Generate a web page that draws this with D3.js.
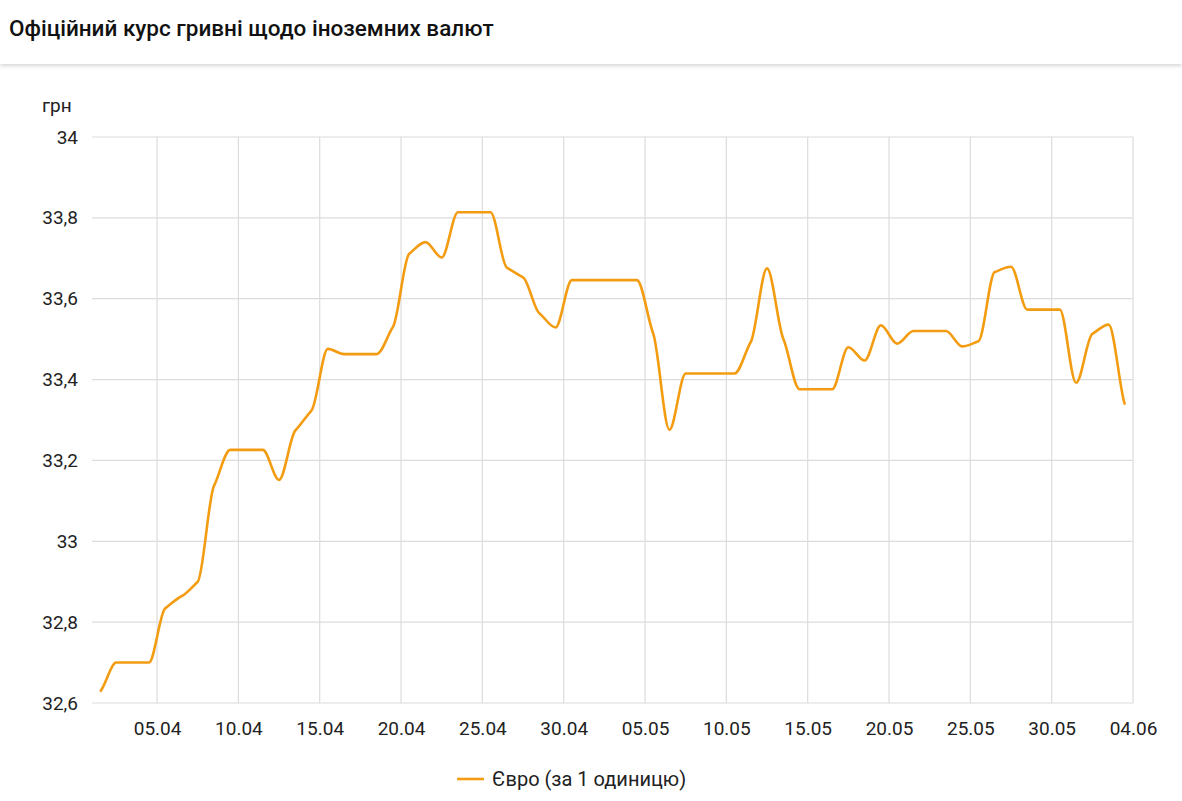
<!DOCTYPE html>
<html><head><meta charset="utf-8">
<script src="https://cdn.jsdelivr.net/npm/d3@7"></script>
<style>
html,body{margin:0;padding:0;background:#fff;width:1182px;height:801px;overflow:hidden;font-family:Roboto,"Noto Sans",sans-serif;}
#hdr{position:absolute;left:0;top:0;width:1182px;height:64px;background:#fff;box-shadow:0 2px 4px rgba(0,0,0,0.16);}
svg{position:absolute;left:0;top:0;}
</style></head><body>
<div id="hdr"></div>
<svg id="c" width="1182" height="801"></svg>
<script>
const titleText = "Офіційний курс гривні щодо іноземних валют";
const startDate = "01.04.2021";
const endDate = "04.06.2021";
const dates = ["01.04","02.04","03.04","04.04","05.04","06.04","07.04","08.04","09.04","10.04",
"11.04","12.04","13.04","14.04","15.04","16.04","17.04","18.04","19.04","20.04",
"21.04","22.04","23.04","24.04","25.04","26.04","27.04","28.04","29.04","30.04",
"01.05","02.05","03.05","04.05","05.05","06.05","07.05","08.05","09.05","10.05",
"11.05","12.05","13.05","14.05","15.05","16.05","17.05","18.05","19.05","20.05",
"21.05","22.05","23.05","24.05","25.05","26.05","27.05","28.05","29.05","30.05",
"31.05","01.06","02.06","03.06"];
const euro = [32.628,32.70,32.70,32.70,32.834,32.864,32.90,33.137,33.226,33.226,
33.226,33.152,33.274,33.324,33.476,33.463,33.463,33.463,33.530,33.711,
33.740,33.702,33.814,33.814,33.814,33.677,33.653,33.564,33.529,33.646,
33.646,33.646,33.646,33.646,33.514,33.276,33.415,33.415,33.415,33.415,
33.493,33.675,33.501,33.376,33.376,33.376,33.480,33.447,33.534,33.489,
33.520,33.520,33.520,33.482,33.495,33.666,33.679,33.573,33.573,33.573,
33.392,33.513,33.536,33.338];
const xTickLabels = ["05.04","10.04","15.04","20.04","25.04","30.04","05.05","10.05","15.05","20.05","25.05","30.05","04.06"];
const yTicks = [32.6,32.8,33,33.2,33.4,33.6,33.8,34];
const seriesName = "Євро (за 1 одиницю)";
const unitLabel = "грн";

const parse = s => { const [d,m] = s.split(".").map(Number); return new Date(2021, m-1, d); };
const parseFull = s => { const [d,m,y] = s.split(".").map(Number); return new Date(y, m-1, d); };
const data = dates.map((d,i)=>({t: new Date(parse(d).getTime()+12*3600e3), v: euro[i]}));

const svg = d3.select("#c");
const L=92, R=1133, T=137, B=703;
const x = d3.scaleTime().domain([parseFull(startDate), parseFull(endDate)]).range([L,R]);
const y = d3.scaleLinear().domain([32.6,34]).range([B,T]);
const fmt = v => String(+v.toFixed(1)).replace(".", ",");
const grid = "#dcdcdc";
const txt = "#222";

svg.append("text").attr("x",9).attr("y",36).attr("font-size",22.5).attr("font-weight",500)
  .attr("font-family","Roboto").attr("fill","#111").text(titleText);

// horizontal grid
svg.append("g").selectAll("line").data(yTicks).join("line")
  .attr("x1",L).attr("x2",R).attr("y1",d=>y(d)).attr("y2",d=>y(d))
  .attr("stroke",grid).attr("stroke-width",1.2);
// vertical grid
const xt = xTickLabels.map(parse);
svg.append("g").selectAll("line").data(xt).join("line")
  .attr("x1",d=>x(d)).attr("x2",d=>x(d)).attr("y1",T).attr("y2",B)
  .attr("stroke",grid).attr("stroke-width",1.2);

// y axis labels
const yAxis = d3.axisLeft(y).tickValues(yTicks).tickFormat(fmt).tickSize(0).tickPadding(0);
const gy = svg.append("g").attr("transform",`translate(${L-14},0)`).call(yAxis);
gy.select(".domain").remove();
gy.selectAll("text").attr("font-size",19).attr("font-family","Roboto").attr("fill",txt);

// x axis labels
const xAxis = d3.axisBottom(x).tickValues(xt).tickFormat((d,i)=>xTickLabels[i]).tickSize(0).tickPadding(0);
const gx = svg.append("g").attr("transform",`translate(0,${B+18})`).call(xAxis);
gx.select(".domain").remove();
gx.selectAll("text").attr("font-size",19).attr("font-family","Roboto").attr("fill",txt);

// unit label
svg.append("text").attr("x",42).attr("y",112).attr("font-size",19).attr("font-family","Roboto").attr("fill",txt).text(unitLabel);

// line: monotone cubic with softened tangents (sharper corners, no overshoot)
function softMonotonePath(pts, k){
  const n = pts.length, p = d3.path();
  const s = [];
  for (let i=0;i<n-1;i++) s.push((pts[i+1][1]-pts[i][1])/(pts[i+1][0]-pts[i][0]));
  const m = pts.map((_,i)=>{
    if (i===0) return s[0]*k;
    if (i===n-1) return s[n-2]*k;
    const a=s[i-1], b=s[i];
    if (a*b<=0) return 0;
    return k*2*a*b/(a+b);
  });
  p.moveTo(pts[0][0],pts[0][1]);
  for (let i=0;i<n-1;i++){
    const [x0,y0]=pts[i],[x1,y1]=pts[i+1], h=(x1-x0)/3;
    p.bezierCurveTo(x0+h,y0+m[i]*h,x1-h,y1-m[i+1]*h,x1,y1);
  }
  return p.toString();
}
const pts = data.map(d=>[x(d.t),y(d.v)]);
svg.append("path").attr("d",softMonotonePath(pts,0.6)).attr("fill","none")
  .attr("stroke","#f39c12").attr("stroke-width",2.6).attr("stroke-linejoin","round");

// legend
const lg = svg.append("g").attr("transform","translate(457,779)");
lg.append("line").attr("x1",0).attr("x2",27).attr("y1",0).attr("y2",0).attr("stroke","#f39c12").attr("stroke-width",2.6);
lg.append("text").attr("x",35).attr("y",7).attr("font-size",20).attr("font-family","Roboto").attr("fill",txt).text(seriesName);
</script>
</body></html>
